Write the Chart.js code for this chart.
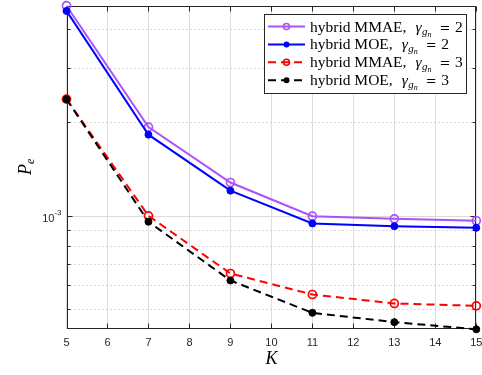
<!DOCTYPE html>
<html>
<head>
<meta charset="utf-8">
<script src="https://cdn.jsdelivr.net/npm/chart.js@4.4.0/dist/chart.umd.min.js"></script>
<style>
    html, body { margin: 0; padding: 0; background: #fff; }
    #wrap { width: 482px; height: 375px; }
</style>
</head>
<body>
<div id="wrap"><canvas id="peChart" width="482" height="375"></canvas></div>
<script>
var valoresK = [5, 7, 9, 11, 13, 15];
var mmaeGama2 = [4.75e-3, 1.93e-3, 1.28e-3, 0.997e-3, 0.978e-3, 0.964e-3];
var moeGama2 = [4.57e-3, 1.825e-3, 1.205e-3, 0.945e-3, 0.926e-3, 0.915e-3];
var mmaeGama3 = [2.375e-3, 1.0e-3, 0.652e-3, 0.558e-3, 0.522e-3, 0.513e-3];
var moeGama3 = [2.375e-3, 0.957e-3, 0.619e-3, 0.487e-3, 0.4545e-3, 0.431e-3];

var nomesSerie = ['hybrid MMAE', 'hybrid MOE', 'hybrid MMAE', 'hybrid MOE'];
var gamaSerie = [2, 2, 3, 3];

var FONTE_EIXO = "'Liberation Sans', Arial, sans-serif";
var FONTE_TEX = "'Liberation Serif', 'Times New Roman', serif";
var COR_EIXO = '#262626';

function pontos(ys) {
    var lista = [];
    for (var i = 0; i < valoresK.length; i++) {
        lista.push({ x: valoresK[i], y: ys[i] });
    }
    return lista;
}

var todos = mmaeGama2.concat(moeGama2, mmaeGama3, moeGama3);
var minY = Math.min.apply(null, todos);
var maxY = Math.max.apply(null, todos);

function valoresGradeY() {
    var vals = [];
    var e0 = Math.floor(Math.log10(minY));
    var e1 = Math.ceil(Math.log10(maxY));
    for (var e = e0; e <= e1; e++) {
        for (var m = 1; m <= 9; m++) {
            var v = m * Math.pow(10, e);
            if (v > minY * 1.0001 && v < maxY * 0.9999) vals.push({ v: v, major: m == 1 });
        }
    }
    return vals;
}

var eixosMatlab = {
    id: 'eixosMatlab',
    beforeDatasetsDraw: function(chart) {
        var ctx = chart.ctx;
        var a = chart.chartArea;
        var ys = chart.scales.y;
        var xs = chart.scales.x;
        var grade = valoresGradeY();
        ctx.save();
        ctx.lineWidth = 1;
        for (var i = 0; i < grade.length; i++) {
            var py = Math.round(ys.getPixelForValue(grade[i].v)) + 0.5;
            ctx.beginPath();
            if (grade[i].major) {
                ctx.setLineDash([]);
                ctx.strokeStyle = '#dcdcdc';
            } else {
                ctx.setLineDash([1, 3]);
                ctx.strokeStyle = '#b8b8b8';
            }
            ctx.moveTo(a.left, py);
            ctx.lineTo(a.right, py);
            ctx.stroke();
        }
        ctx.setLineDash([]);

        // caixa dos eixos
        var l = Math.round(a.left) + 0.5, r = Math.round(a.right) - 0.5;
        var t = Math.round(a.top) + 0.5, b = Math.round(a.bottom) - 0.5;
        ctx.strokeStyle = COR_EIXO;
        ctx.strokeRect(l, t, r - l, b - t);

        // marcas dos ticks
        ctx.beginPath();
        for (var k = 5; k <= 15; k++) {
            var px = Math.round(xs.getPixelForValue(k)) + 0.5;
            ctx.moveTo(px, b); ctx.lineTo(px, b - 5);
            ctx.moveTo(px, t); ctx.lineTo(px, t + 5);
        }
        for (var j = 0; j < grade.length; j++) {
            var qy = Math.round(ys.getPixelForValue(grade[j].v)) + 0.5;
            var len = grade[j].major ? 5 : 3;
            ctx.moveTo(l, qy); ctx.lineTo(l + len, qy);
            ctx.moveTo(r, qy); ctx.lineTo(r - len, qy);
        }
        ctx.stroke();

        // rotulo 10^-3
        var y3 = ys.getPixelForValue(1e-3);
        ctx.fillStyle = COR_EIXO;
        ctx.textAlign = 'right';
        ctx.textBaseline = 'alphabetic';
        ctx.font = '8px ' + FONTE_EIXO;
        var wExp = ctx.measureText('-3').width;
        ctx.fillText('-3', a.left - 5, y3 - 1);
        ctx.font = '11px ' + FONTE_EIXO;
        ctx.fillText('10', a.left - 5 - wExp, y3 + 6.5);

        // rotulo P_e
        ctx.save();
        ctx.translate(26, 167);
        ctx.rotate(-Math.PI / 2);
        ctx.fillStyle = '#000';
        ctx.textAlign = 'left';
        ctx.font = 'italic 18px ' + FONTE_TEX;
        var wP = ctx.measureText('P').width;
        ctx.fillText('P', -8, 5);
        ctx.font = 'italic 12px ' + FONTE_TEX;
        ctx.fillText('e', -8 + wP, 8);
        ctx.restore();
        ctx.restore();
    },
    afterDraw: function(chart) {
        var ctx = chart.ctx;
        var ds = chart.data.datasets;
        ctx.save();
        ctx.fillStyle = '#fff';
        ctx.fillRect(264.5, 14.5, 202, 79);
        ctx.strokeStyle = COR_EIXO;
        ctx.lineWidth = 1;
        ctx.strokeRect(264.5, 14.5, 202, 79);

        for (var i = 0; i < ds.length; i++) {
            var linhaY = 26.5 + i * 17.9;
            var aberto = ds[i].pointBackgroundColor == 'transparent';
            ctx.strokeStyle = ds[i].borderColor;
            ctx.lineWidth = 2;
            ctx.setLineDash(ds[i].borderDash || []);
            ctx.beginPath();
            ctx.moveTo(268, linhaY);
            ctx.lineTo(305, linhaY);
            ctx.stroke();
            ctx.setLineDash([]);
            ctx.beginPath();
            ctx.arc(286.5, linhaY, 3, 0, Math.PI * 2);
            if (!aberto) {
                ctx.fillStyle = ds[i].pointBackgroundColor;
                ctx.fill();
            } else {
                ctx.lineWidth = 1.6;
                ctx.stroke();
            }

            var base = linhaY + 5;
            var x = 310;
            ctx.fillStyle = '#000';
            ctx.textAlign = 'left';
            ctx.textBaseline = 'alphabetic';
            ctx.font = '15.5px ' + FONTE_TEX;
            ctx.fillText(nomesSerie[i] + ',', x, base);
            x += ctx.measureText(nomesSerie[i] + ',').width + 9;
            ctx.font = 'italic 15.5px ' + FONTE_TEX;
            ctx.fillText('\u03b3', x, base);
            x += ctx.measureText('\u03b3').width + 0.5;
            ctx.font = 'italic 11px ' + FONTE_TEX;
            ctx.fillText('g', x, base + 3);
            x += ctx.measureText('g').width;
            ctx.font = 'italic 8px ' + FONTE_TEX;
            ctx.fillText('n', x, base + 5);
            x += ctx.measureText('n').width + 8;
            ctx.font = "13px 'DejaVu Serif', serif";
            ctx.fillText('=', x, base);
            x += ctx.measureText('=').width + 4.5;
            ctx.font = '15.5px ' + FONTE_TEX;
            ctx.fillText(String(gamaSerie[i]), x, base);
        }
        ctx.restore();
    }
};

function serie(ys, cor, tracejado, aberto, ordem) {
    return {
        data: pontos(ys),
        borderColor: cor,
        borderWidth: 2,
        borderDash: tracejado ? [8, 5] : [],
        pointStyle: 'circle',
        pointRadius: aberto ? 4 : 3.5,
        pointBorderWidth: aberto ? 1.7 : 1,
        pointBorderColor: cor,
        pointBackgroundColor: aberto ? 'transparent' : cor,
        fill: false,
        tension: 0,
        clip: false,
        order: ordem
    };
}

new Chart(document.getElementById('peChart').getContext('2d'), {
    type: 'line',
    data: {
        datasets: [
            serie(mmaeGama2, 'rgb(172, 82, 250)', false, true, 4),
            serie(moeGama2, '#0000ff', false, false, 3),
            serie(mmaeGama3, '#ff0000', true, true, 2),
            serie(moeGama3, '#000000', true, false, 1)
        ]
    },
    options: {
        responsive: false,
        animation: false,
        layout: { padding: { top: 5, right: 4, bottom: 0, left: 0 } },
        plugins: {
            legend: { display: false },
            tooltip: { enabled: false }
        },
        scales: {
            x: {
                type: 'linear',
                min: 5,
                max: 15,
                ticks: {
                    stepSize: 1,
                    color: COR_EIXO,
                    font: { family: FONTE_EIXO, size: 11 },
                    padding: 7,
                    maxRotation: 0,
                    autoSkip: false
                },
                grid: { color: '#dedede', drawTicks: false },
                border: { display: false },
                title: {
                    display: true,
                    text: 'K',
                    color: '#000',
                    font: { family: FONTE_TEX, style: 'italic', size: 18 },
                    padding: { top: 0, bottom: 5 }
                },
                afterFit: function(scale) {
                    scale.height = 45.7;
                    scale.paddingLeft = 0;
                    scale.paddingRight = 0;
                }
            },
            y: {
                type: 'logarithmic',
                min: minY,
                max: maxY,
                grid: { display: false },
                border: { display: false },
                ticks: { display: false },
                afterFit: function(scale) {
                    scale.width = 66.5;
                }
            }
        }
    },
    plugins: [eixosMatlab]
});
</script>
</body>
</html>
